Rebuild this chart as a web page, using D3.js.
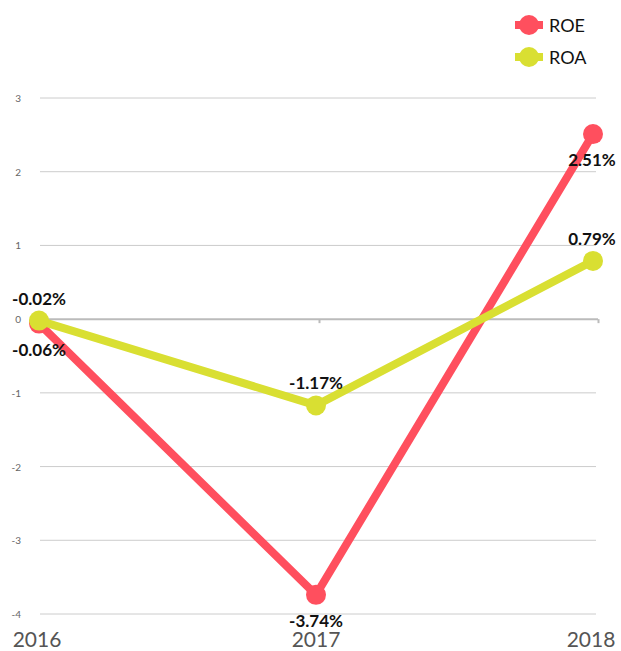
<!DOCTYPE html>
<html>
<head>
<meta charset="utf-8">
<script src="https://cdn.jsdelivr.net/npm/d3@7"></script>
<style>
  body { margin: 0; background: #fff; }
  text { font-family: Lato, "Open Sans", sans-serif; }
</style>
</head>
<body>
<div id="chartContainer"></div>
<script>
// Chart data
const years = ["2016", "2017", "2018"];
const roe = [-0.06, -3.74, 2.51];
const roa = [-0.02, -1.17, 0.79];
const yTicks = [3, 2, 1, 0, -1, -2, -3, -4];
const seriesNames = ["ROE", "ROA"];
const colors = ["#ff4f5e", "#d9df32"];

const width = 621, height = 651;

const svg = d3.select("#chartContainer")
  .append("svg")
  .attr("width", width)
  .attr("height", height);

// scales
const x = d3.scalePoint()
  .domain(years)
  .range([39, 593]);

const y = d3.scaleLinear()
  .domain([-4, 3])
  .range([614, 98]);

// grid lines
svg.append("g")
  .selectAll("line")
  .data(yTicks.filter(d => d !== 0))
  .enter()
  .append("line")
  .attr("x1", 40)
  .attr("x2", 596)
  .attr("y1", d => y(d))
  .attr("y2", d => y(d))
  .attr("stroke", "#cccccc")
  .attr("stroke-width", 1);

// y tick labels
svg.append("g")
  .selectAll("text")
  .data(yTicks)
  .enter()
  .append("text")
  .attr("x", 21)
  .attr("y", d => y(d) + 4)
  .attr("text-anchor", "end")
  .attr("font-size", 10)
  .attr("fill", "#666")
  .text(d => d);

// zero axis with ticks
const xAxis = svg.append("g")
  .attr("transform", `translate(0, ${y(0)})`)
  .call(d3.axisBottom(d3.scaleLinear().domain([0, 2]).range([40, 598]))
    .tickValues([1, 2]).tickSize(4).tickFormat(""));
xAxis.selectAll("path, line").attr("stroke", "#bbbbbb").attr("stroke-width", 2);
xAxis.select(".domain").attr("d", `M40,0H598`);

// year labels
svg.append("g")
  .selectAll("text")
  .data(years)
  .enter()
  .append("text")
  .attr("x", (d, i) => x(d) + [-2, 0, -2][i])
  .attr("y", 647)
  .attr("text-anchor", "middle")
  .attr("font-size", 21)
  .attr("fill", "#555")
  .text(d => d);

const line = d3.line()
  .x((d, i) => x(years[i]))
  .y(d => y(d));

// draw series: ROA over ROE
function drawSeries(values, color, labelAbove) {
  svg.append("path")
    .datum(values)
    .attr("fill", "none")
    .attr("stroke", color)
    .attr("stroke-width", 8)
    .attr("d", line);

  svg.append("g")
    .selectAll("circle")
    .data(values)
    .enter()
    .append("circle")
    .attr("cx", (d, i) => x(years[i]))
    .attr("cy", d => y(d))
    .attr("r", 10)
    .attr("fill", color);

  svg.append("g")
    .selectAll("text")
    .data(values)
    .enter()
    .append("text")
    .attr("x", (d, i) => Math.min(x(years[i]), 592))
    .attr("y", d => labelAbove ? y(d) - 16 : y(d) + 32)
    .attr("text-anchor", "middle")
    .attr("font-size", 17)
    .attr("font-weight", "bold")
    .attr("fill", "#111")
    .text(d => d.toFixed(2) + "%");
}

drawSeries(roe, colors[0], false);
drawSeries(roa, colors[1], true);

// legend
const legend = svg.append("g")
  .selectAll("g")
  .data(seriesNames)
  .enter()
  .append("g")
  .attr("transform", (d, i) => `translate(515, ${25 + i * 32})`);

legend.append("line")
  .attr("x1", 0).attr("x2", 28)
  .attr("stroke", (d, i) => colors[i])
  .attr("stroke-width", 8);

legend.append("circle")
  .attr("cx", 14).attr("r", 10)
  .attr("fill", (d, i) => colors[i]);

legend.append("text")
  .attr("x", 34)
  .attr("y", 7)
  .attr("font-size", 18)
  .attr("fill", "#111")
  .text(d => d);
</script>
</body>
</html>
